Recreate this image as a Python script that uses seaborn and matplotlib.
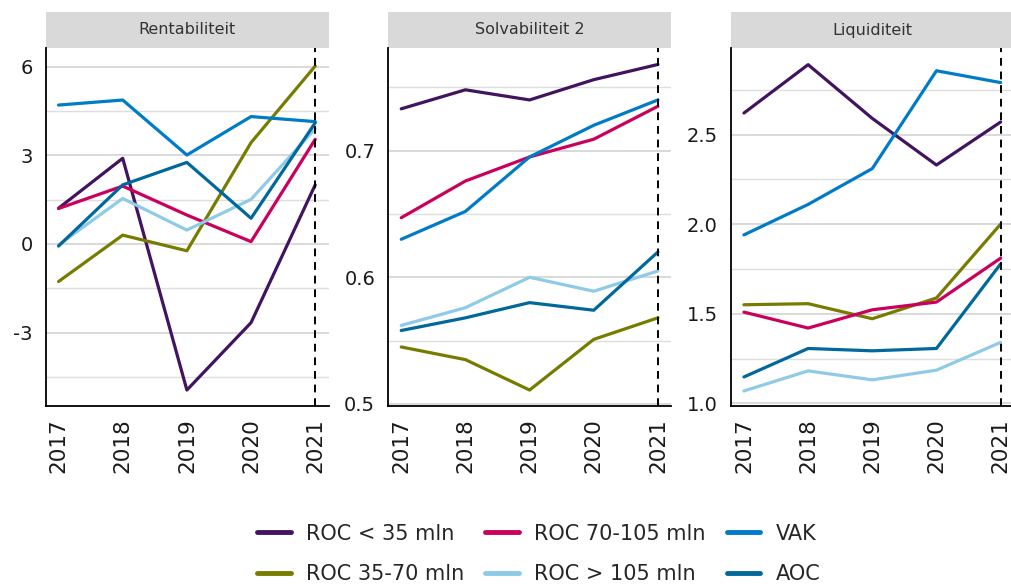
"""Kengetallen per sector (rentabiliteit, solvabiliteit, liquiditeit) 2017-2021."""

import matplotlib
matplotlib.use("Agg")
import matplotlib.pyplot as plt
import pandas as pd
import seaborn as sns
from matplotlib.lines import Line2D
from matplotlib.patches import Rectangle
from matplotlib.ticker import AutoMinorLocator, FormatStrFormatter, MultipleLocator

years = [2017, 2018, 2019, 2020, 2021]
groups = ["ROC < 35 mln", "ROC 35-70 mln", "ROC 70-105 mln",
          "ROC > 105 mln", "VAK", "AOC"]
colors = ["#42145f", "#777c00", "#ca005d", "#8fcae7", "#007bc7", "#01689b"]

# waarden per groep, in volgorde van `groups`
rentabiliteit = [
    [1.21, 2.90, -4.94, -2.66, 2.00],
    [-1.27, 0.30, -0.23, 3.43, 6.02],
    [1.20, 1.96, 0.98, 0.08, 3.54],
    [-0.03, 1.54, 0.47, 1.51, 3.90],
    [4.70, 4.87, 3.01, 4.31, 4.14],
    [-0.07, 2.00, 2.76, 0.87, 4.10],
]
solvabiliteit = [
    [0.733, 0.748, 0.740, 0.756, 0.768],
    [0.545, 0.535, 0.511, 0.551, 0.568],
    [0.647, 0.676, 0.695, 0.709, 0.735],
    [0.562, 0.576, 0.600, 0.589, 0.605],
    [0.630, 0.652, 0.695, 0.720, 0.740],
    [0.558, 0.568, 0.580, 0.574, 0.620],
]
liquiditeit = [
    [2.62, 2.89, 2.59, 2.33, 2.57],
    [1.55, 1.556, 1.472, 1.588, 2.00],
    [1.509, 1.42, 1.522, 1.565, 1.81],
    [1.069, 1.181, 1.131, 1.185, 1.34],
    [1.94, 2.11, 2.31, 2.856, 2.79],
    [1.147, 1.306, 1.293, 1.306, 1.778],
]

panels = ["Rentabiliteit", "Solvabiliteit 2", "Liquiditeit"]
panel_data = [rentabiliteit, solvabiliteit, liquiditeit]
ylims = [(-5.48, 6.63), (0.4984, 0.781), (0.985, 2.983)]
ysteps = [3, 0.1, 0.5]
yfmts = ["%d", "%.1f", "%.1f"]

rows = []
for panel, data in zip(panels, panel_data):
    for group, values in zip(groups, data):
        for year, v in zip(years, values):
            rows.append({"panel": panel, "groep": group, "jaar": year, "waarde": v})
df = pd.DataFrame(rows)

sns.set_style("white")
plt.rcParams["font.family"] = ["DejaVu Sans"]
plt.rcParams["axes.unicode_minus"] = False

fig = plt.figure(figsize=(10.11, 5.85), dpi=100)
W, H = 1011, 585
palette = dict(zip(groups, colors))

for i, (panel, ylim, step, fmt) in enumerate(zip(panels, ylims, ysteps, yfmts)):
    left = 45.7 + i * 342.7
    ax = fig.add_axes([left / W, 1 - 406 / H, 283 / W, 358 / H])
    sub = df[df["panel"] == panel]
    sns.lineplot(data=sub, x="jaar", y="waarde", hue="groep", hue_order=groups,
                 palette=palette, linewidth=2.3, legend=False, ax=ax)
    ax.axvline(2021, color="black", linestyle=(0, (4, 3)), linewidth=1.4, zorder=5)

    ax.set_xlim(2016.8, 2021.21)
    ax.set_ylim(*ylim)
    ax.set_xticks(years)
    ax.set_xticklabels([str(y) for y in years], rotation=90)
    ax.yaxis.set_major_locator(MultipleLocator(step))
    ax.yaxis.set_major_formatter(FormatStrFormatter(fmt))
    ax.yaxis.set_minor_locator(AutoMinorLocator(2))
    ax.grid(axis="y", which="major", color="#cfcfcf", linewidth=1.1)
    ax.grid(axis="y", which="minor", color="#dedede", linewidth=1.0)
    ax.set_axisbelow(True)
    ax.set_xlabel("")
    ax.set_ylabel("")

    for s in ["top", "right"]:
        ax.spines[s].set_visible(False)
    for s in ["left", "bottom"]:
        ax.spines[s].set_color("black")
        ax.spines[s].set_linewidth(1.3)
    ax.tick_params(axis="both", which="major", length=3.5, width=1.2,
                   color="black", labelcolor="#1a1a1a")
    ax.tick_params(axis="x", labelsize=15.5, pad=5)
    ax.tick_params(axis="y", labelsize=14, pad=6)
    ax.tick_params(axis="y", which="minor", length=0)

    # strip met paneltitel
    ax.add_patch(Rectangle((0, 1), 1, 36 / 358, transform=ax.transAxes,
                           facecolor="#d9d9d9", edgecolor="none", clip_on=False))
    ax.text(0.5, 1 + 18 / 358, panel, transform=ax.transAxes, ha="center",
            va="center", fontsize=11.5, color="#333333")

handles = [Line2D([0], [0], color=c, linewidth=3.5) for c in colors]
fig.legend(handles, groups, loc="center", bbox_to_anchor=(0.533, 0.053), ncol=3,
           frameon=False, fontsize=15, handlelength=1.6, handletextpad=0.75,
           columnspacing=1.0, labelspacing=1.0)

fig.savefig("out.png", dpi=100)
